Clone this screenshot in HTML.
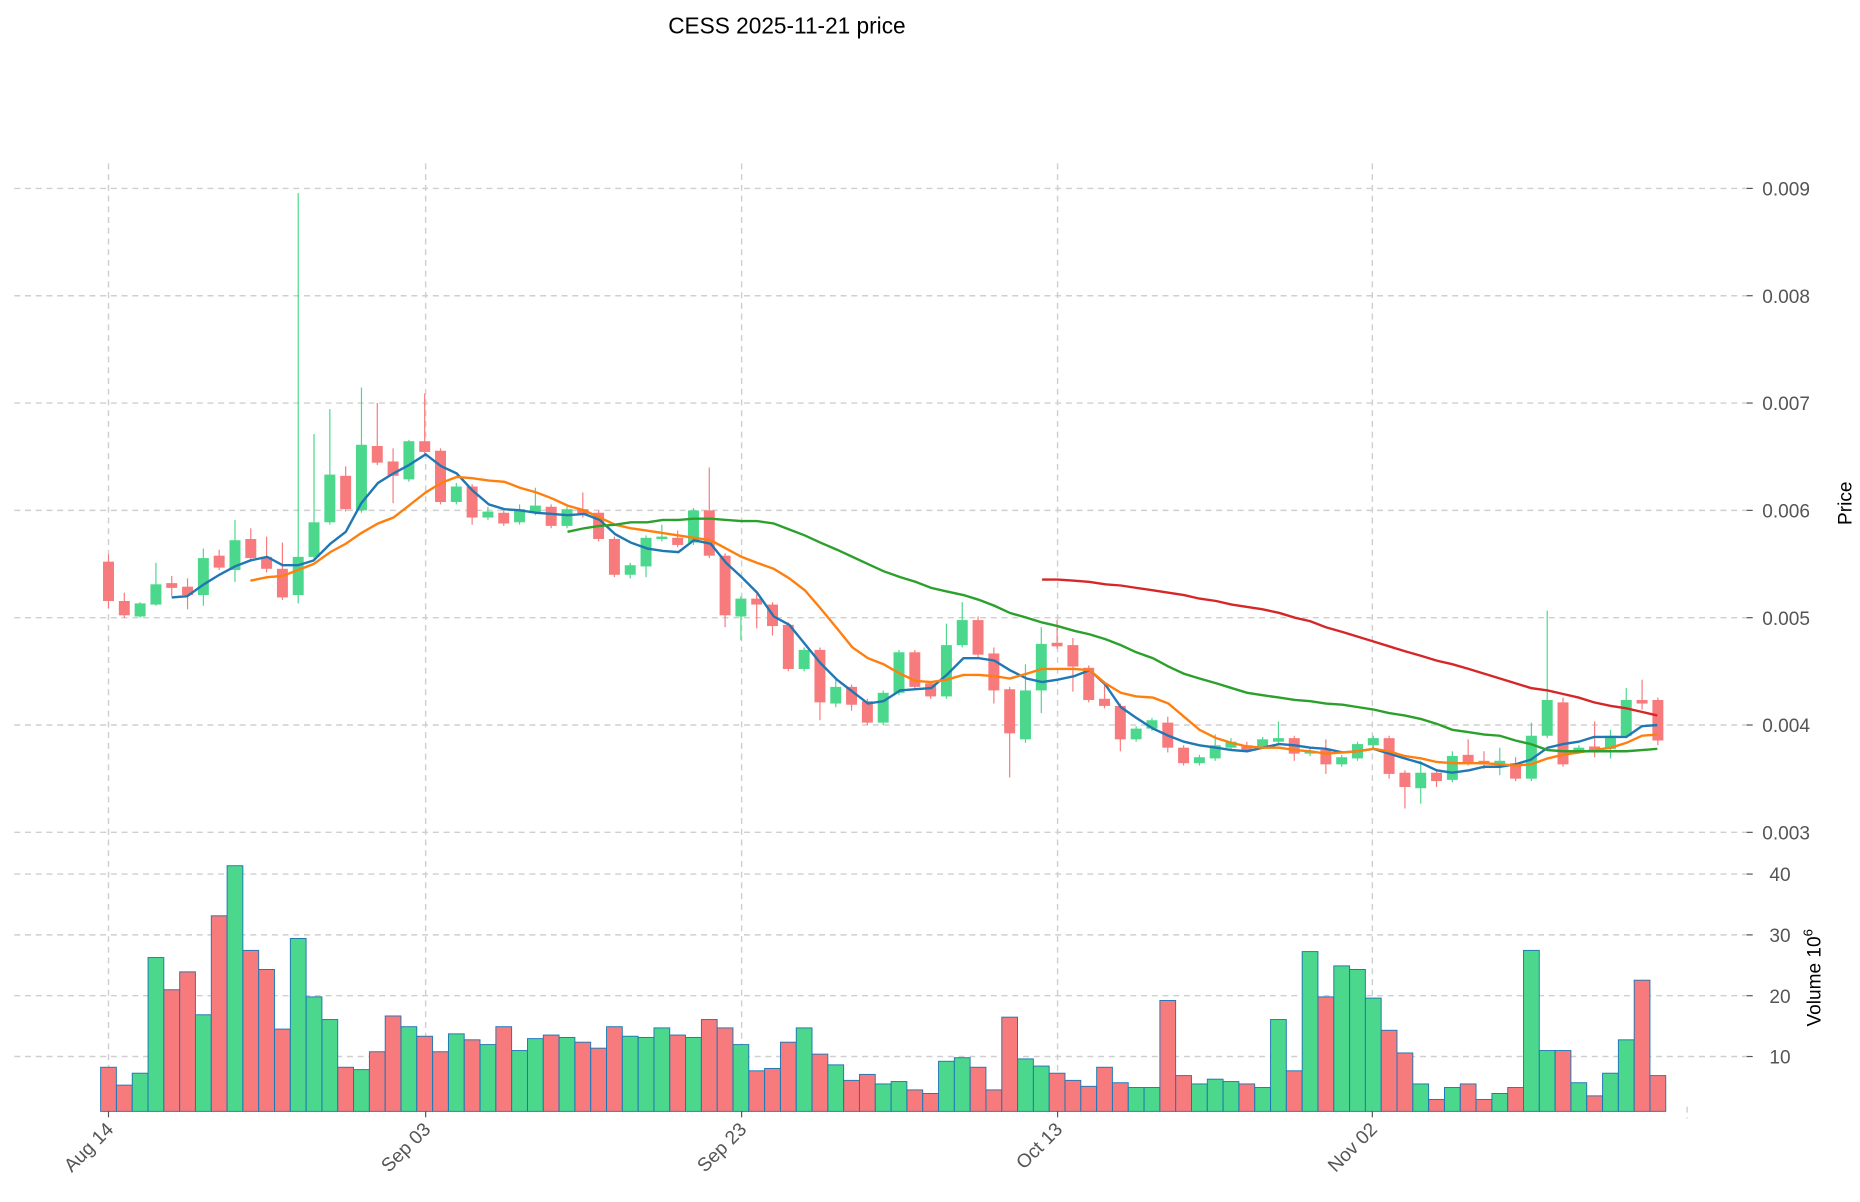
<!DOCTYPE html>
<html><head><meta charset="utf-8"><style>
html,body{margin:0;padding:0;background:#fff;}
svg{display:block;}
text{font-family:"Liberation Sans","DejaVu Sans",sans-serif;}
</style></head><body>
<svg id="s" width="1860" height="1202" viewBox="0 0 1560 1008" preserveAspectRatio="none" xmlns="http://www.w3.org/2000/svg">
<rect width="1560" height="1008" fill="#fff"/>
<text x="660" y="28" font-size="19" text-anchor="middle" fill="#000">CESS  2025-11-21  price</text>
<g id="grid" stroke="#cfcfcf" stroke-width="1.2" stroke-dasharray="5,4" fill="none"></g>
<g id="vol"></g>
<g id="cand"></g>
<g id="ma" fill="none" stroke-width="2"></g>
<g id="lab" font-size="16" fill="#555"></g>
<text transform="translate(1553,422) rotate(-90)" font-size="16" text-anchor="middle" fill="#000">Price</text>
<text transform="translate(1527,820) rotate(-90)" font-size="16" text-anchor="middle" fill="#000">Volume  10<tspan dy="-7" font-size="11">6</tspan></text>
</svg>
<script>
const NS="http://www.w3.org/2000/svg";
function el(p,t,a,txt){const e=document.createElementNS(NS,t);for(const k in a)e.setAttribute(k,a[k]);if(txt!==undefined)e.textContent=txt;document.getElementById(p).appendChild(e);return e;}
// grid
[158,248,338,428,518,608,698].forEach(y=>el('grid','line',{x1:12,x2:1470,y1:y,y2:y}));
[733,784,835,886].forEach(y=>el('grid','line',{x1:12,x2:1470,y1:y,y2:y}));
[91,357,622,887,1151].forEach(x=>el('grid','line',{x1:x,x2:x,y1:137,y2:932}));
el('grid','line',{x1:1415,x2:1415,y1:928,y2:938});
// labels
const pl=['0.009','0.008','0.007','0.006','0.005','0.004','0.003'];
[158,248,338,428,518,608,698].forEach((y,i)=>{el('lab','line',{x1:1465,x2:1470,y1:y,y2:y,stroke:'#555'});el('lab','text',{x:1478,y:y+6},pl[i]);});
[[733,'40'],[784,'30'],[835,'20'],[886,'10']].forEach(([y,t])=>{el('lab','line',{x1:1465,x2:1470,y1:y,y2:y,stroke:'#555'});el('lab','text',{x:1484,y:y+6},t);});
[[91,'Aug 14'],[357,'Sep 03'],[622,'Sep 23'],[887,'Oct 13'],[1151,'Nov 02']].forEach(([x,t])=>{
 el('lab','line',{x1:x,x2:x,y1:932,y2:937,stroke:'#555'});
 el('lab','text',{transform:`translate(${x+5},${948}) rotate(-45)`,'text-anchor':'end'},t);});
// candles [open/close top,bottom, wickTop, wickBot, color g/r]
const C=[[471,504,465,510,'r'],[504,516,497,518,'r'],[506,517,505,518,'g'],[490,507,472,508,'g'],[489,493,483,500,'r'],[492,499,485,511,'r'],[468,499,460,508,'g'],[466,476,461,478,'r'],[453,478,436,488,'g'],[452,468,443,470,'r'],
[467,477,450,480,'r'],[477,501,455,503,'r'],[467,499,162,506,'g'],[438,467,364,469,'g'],[398,438,343,440,'g'],[399,427,391,429,'r'],[373,428,325,430,'g'],[374,388,338,390,'r'],[387,399,376,422,'r'],[370,402,369,404,'g'],
[370,379,330,381,'r'],[378,421,376,423,'r'],[408,421,405,423,'g'],[408,434,406,440,'r'],[429,434,425,436,'g'],[430,439,428,441,'r'],[427,438,423,440,'g'],[424,430,409,432,'g'],[425,441,423,443,'r'],[427,441,425,443,'g'],
[427,432,413,434,'r'],[430,452,428,454,'r'],[452,482,450,484,'r'],[474,482,472,485,'g'],[451,475,449,484,'g'],[450,452,440,454,'g'],[451,457,445,459,'r'],[428,455,426,457,'g'],[428,466,392,468,'r'],[466,516,464,526,'r'],
[502,517,500,537,'g'],[502,507,498,527,'r'],[507,525,505,533,'r'],[524,561,522,563,'r'],[545,561,543,563,'g'],[545,589,543,604,'r'],[576,590,570,593,'g'],[576,591,574,596,'r'],[588,606,586,608,'r'],[581,606,579,608,'g'],
[547,581,545,583,'g'],[547,576,545,578,'r'],[573,584,571,586,'r'],[541,584,523,586,'g'],[520,541,505,543,'g'],[520,549,517,551,'r'],[548,579,543,590,'r'],[578,615,576,652,'r'],[579,620,557,623,'g'],[540,579,526,598,'g'],
[539,542,520,544,'r'],[541,559,535,580,'r'],[560,587,558,589,'r'],[586,592,574,594,'r'],[592,620,590,630,'r'],[611,620,609,622,'g'],[604,611,602,613,'g'],[606,627,601,631,'r'],[627,640,625,642,'r'],[635,640,633,642,'g'],
[625,636,616,638,'g'],[622,627,619,629,'g'],[625,629,622,631,'r'],[620,626,618,628,'g'],[619,622,605,624,'g'],[619,632,617,638,'r'],[630,632,626,634,'g'],[629,641,620,649,'r'],[635,641,633,643,'g'],[624,636,622,638,'g'],
[619,625,617,627,'g'],[619,649,617,653,'r'],[648,660,646,678,'r'],[648,661,638,674,'g'],[648,655,646,660,'r'],[634,654,630,656,'g'],[633,640,620,642,'r'],[638,641,630,645,'r'],[638,641,627,650,'g'],[640,653,635,655,'r'],
[617,653,606,655,'g'],[587,617,512,619,'g'],[589,641,585,643,'r'],[627,630,625,632,'g'],[626,630,605,635,'r'],[617,628,612,636,'g'],[587,617,577,619,'g'],[587,590,570,595,'r'],[587,621,585,625,'r']];
const V=[895,910,900,803,830,815,851,768,726,797,813,863,787,836,855,895,897,882,852,861,869,882,867,872,876,861,881,871,868,870,874,879,861,869,870,862,868,870,855,862,876,898,896,874,862,884,893,906,901,909,907,914,917,890,887,895,914,853,888,894,900,906,911,895,908,912,912,839,902,909,905,907,909,912,855,898,798,836,810,813,837,864,883,909,922,912,909,922,917,912,797,881,881,908,919,900,872,822,902];
const G='#4bd88c',R='#f77b7d';
C.forEach((c,i)=>{const x=91+13.26*i,col=c[4]=='g'?G:R;
 el('cand','line',{x1:x,x2:x,y1:c[2],y2:c[3],stroke:col,'stroke-width':1});
 el('cand','rect',{x:x-4.6,y:c[0],width:9.2,height:Math.max(2,c[1]-c[0]),fill:col});
 el('vol','rect',{x:x-6.6,y:V[i],width:13.2,height:932-V[i],fill:col,stroke:'#1f77b4','stroke-width':0.8});});
function pl2(pts,col){el('ma','polyline',{points:pts.map(p=>p.join(',')).join(' '),stroke:col});}
pl2([[144,501],[157,500],[171,490],[184,482],[197,475],[210,470],[224,467],[237,474],[250,474],[263,470],[277,456],[290,446],[303,422],[317,405],[330,397],[343,390],[357,381],[370,391],[383,397],[396,411],[410,423],[423,427],[436,428],[450,430],[463,431],[476,432],[490,431],[503,436],[516,448],[529,455],[543,460],[556,462],[569,463],[582,453],[596,456],[609,472],[622,484],[635,497],[649,517],[662,524],[675,540],[688,556],[702,570],[715,580],[728,590],[741,588],[755,579],[768,578],[781,577],[794,566],[808,552],[821,552],[834,554],[847,562],[861,569],[874,572],[887,570],[901,567],[914,562],[927,574],[940,593],[953,602],[967,611],[980,617],[993,622],[1006,625],[1020,627],[1033,629],[1046,630],[1059,627],[1073,624],[1086,625],[1099,627],[1112,628],[1126,631],[1139,630],[1152,628],[1165,632],[1178,636],[1192,640],[1205,646],[1218,648],[1232,646],[1245,643],[1258,643],[1271,641],[1284,637],[1298,627],[1311,624],[1324,622],[1337,618],[1351,618],[1364,618],[1377,609],[1390,608]],'#1f77b4');
pl2([[210,487],[224,484],[237,483],[250,478],[263,473],[277,463],[290,456],[303,447],[317,439],[330,434],[343,424],[357,413],[370,405],[383,400],[396,401],[410,403],[423,404],[436,409],[450,413],[463,418],[476,424],[490,428],[503,434],[516,440],[529,443],[543,445],[556,447],[569,449],[582,451],[596,453],[609,460],[622,467],[635,472],[649,477],[662,485],[675,495],[688,510],[702,527],[715,543],[728,552],[741,557],[755,565],[768,571],[781,572],[794,570],[808,566],[821,566],[834,567],[847,569],[861,565],[874,561],[887,561],[901,561],[914,562],[927,573],[940,581],[953,584],[967,585],[980,590],[993,601],[1006,612],[1020,619],[1033,623],[1046,626],[1059,627],[1073,627],[1086,629],[1099,630],[1112,632],[1126,631],[1139,630],[1152,628],[1165,630],[1178,634],[1192,636],[1205,639],[1218,640],[1232,640],[1245,640],[1258,641],[1271,642],[1284,641],[1298,636],[1311,633],[1324,631],[1337,629],[1351,627],[1364,623],[1377,617],[1390,616]],'#ff7f0e');
pl2([[476,446],[490,443],[503,441],[516,440],[529,438],[543,438],[556,436],[569,436],[582,435],[596,435],[609,436],[622,437],[635,437],[649,439],[662,444],[675,449],[688,455],[702,461],[715,467],[728,473],[741,479],[755,484],[768,488],[781,493],[794,496],[808,499],[821,503],[834,508],[847,514],[861,518],[874,522],[887,525],[901,529],[914,532],[927,536],[940,541],[953,547],[967,552],[980,559],[993,565],[1006,569],[1020,573],[1033,577],[1046,581],[1059,583],[1073,585],[1086,587],[1099,588],[1112,590],[1126,591],[1139,593],[1152,595],[1165,598],[1178,600],[1192,603],[1205,607],[1218,612],[1232,614],[1245,616],[1258,617],[1271,621],[1284,624],[1298,629],[1311,630],[1324,630],[1337,630],[1351,630],[1364,630],[1377,629],[1390,628]],'#2ca02c');
pl2([[874,486],[887,486],[901,487],[914,488],[927,490],[940,491],[953,493],[967,495],[980,497],[993,499],[1006,502],[1020,504],[1033,507],[1046,509],[1059,511],[1073,514],[1086,518],[1099,521],[1112,526],[1126,530],[1139,534],[1152,538],[1165,542],[1178,546],[1192,550],[1205,554],[1218,557],[1232,561],[1245,565],[1258,569],[1271,573],[1284,577],[1298,579],[1311,582],[1324,585],[1337,589],[1351,592],[1364,594],[1377,597],[1390,600]],'#d62728');
</script>
</body></html>
